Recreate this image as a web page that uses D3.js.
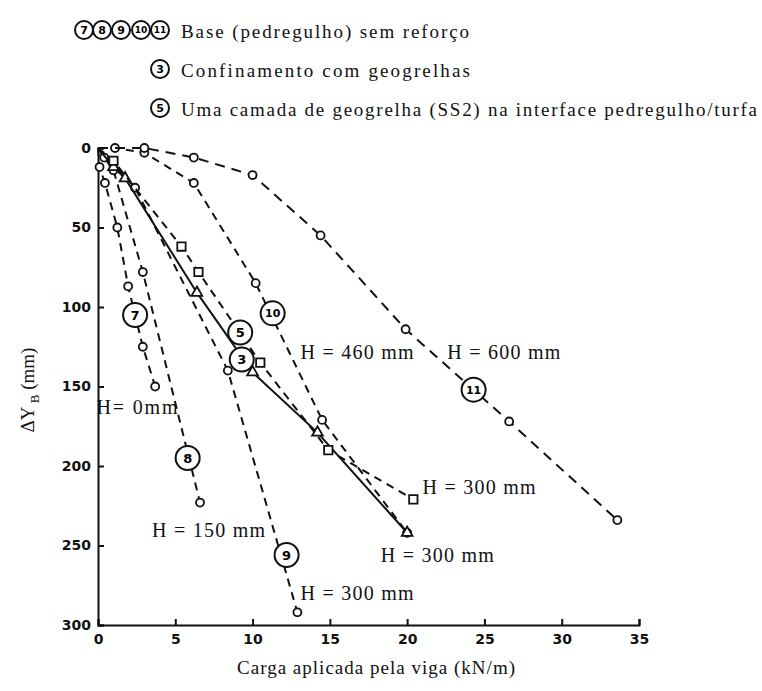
<!DOCTYPE html>
<html>
<head>
<meta charset="utf-8">
<script src="https://cdn.jsdelivr.net/npm/d3@7"></script>
<style>
  body { margin: 0; background: #fff; }
  svg { display: block; }
  .serif { font-family: "Liberation Serif", "DejaVu Serif", serif; fill: #111; }
  .tick text { font-family: "DejaVu Sans", sans-serif; font-weight: bold; font-size: 14px; fill: #111; }
</style>
</head>
<body>
<svg id="chart" width="762" height="691"></svg>
<script>
// load (kN/m) vs settlement (mm), curves
const curve7  = [[0, 0], [0.1, 12], [0.45, 22], [1.25, 50], [1.95, 87], [2.9, 125], [3.7, 150]];
const curve8  = [[0, 0], [0.4, 6], [1.0, 14], [2.9, 78], [6.6, 223]];
const curve9  = [[0, 0], [1.0, 10], [2.4, 25], [8.4, 140], [12.9, 292]];
const curve10 = [[0, 0], [1.1, 0], [3.0, 3], [6.2, 22], [10.2, 85], [14.5, 171], [20.0, 242]];
const curve11 = [[0, 0], [3.0, 0], [6.2, 6], [10.0, 17], [14.4, 55], [19.9, 114], [26.6, 172], [33.6, 234]];
const curve3  = [[0, 0], [1.0, 12], [1.75, 19], [6.4, 91], [10.0, 141], [14.2, 179], [20.0, 242]];
const curve5  = [[0, 0], [1.0, 8], [5.4, 62], [6.5, 78], [10.5, 135], [14.9, 190], [20.4, 221]];

const xTicks = [0, 5, 10, 15, 20, 25, 30, 35];
const yTicks = [0, 50, 100, 150, 200, 250, 300];

// circled curve numbers, [x, y, label] in data units
const curveTags = [[2.4, 105, "7"], [5.8, 195, "8"], [12.2, 256, "9"], [11.3, 104, "10"],
                   [24.3, 152, "11"], [9.2, 116, "5"], [9.3, 133, "3"]];
// H annotations, [x, y, text] in data units (x = left of text)
const hNotes = [[-0.1, 163, "H= 0mm"], [3.5, 240, "H = 150 mm"], [13.1, 280, "H = 300 mm"],
                [13.1, 128, "H = 460 mm"], [22.6, 128, "H = 600 mm"],
                [21.0, 213, "H = 300 mm"], [18.3, 256, "H = 300 mm"]];

const legendTags = ["7", "8", "9", "10", "11"];
const legendText = ["Base (pedregulho) sem reforço", "Confinamento com geogrelhas",
                    "Uma camada de geogrelha (SS2) na interface pedregulho/turfa"];

const svg = d3.select("#chart");
const x = d3.scaleLinear().domain([0, 35]).range([98, 639]);
const y = d3.scaleLinear().domain([0, 300]).range([148, 625]);

// axes
svg.append("g")
  .attr("transform", `translate(0,${y(300)})`)
  .call(d3.axisBottom(x).tickValues(xTicks).tickSize(-6).tickPadding(9))
  .call(g => g.select(".domain").attr("stroke-width", 2).attr("stroke", "#111"))
  .call(g => g.selectAll(".tick line").attr("stroke-width", 2).attr("stroke", "#111"));

svg.append("g")
  .attr("transform", `translate(${x(0)},0)`)
  .call(d3.axisLeft(y).tickValues(yTicks).tickSize(-6).tickPadding(7))
  .call(g => g.select(".domain").attr("stroke-width", 2).attr("stroke", "#111"))
  .call(g => g.selectAll(".tick line").attr("stroke-width", 2).attr("stroke", "#111"));

const line = d3.line().x(d => x(d[0])).y(d => y(d[1]));

const series = [
  { data: curve7, dash: "8,6", mark: "circle" },
  { data: curve8, dash: "8,6", mark: "circle" },
  { data: curve9, dash: "8,6", mark: "circle" },
  { data: curve10, dash: "8,6", mark: "circle" },
  { data: curve11, dash: "10,7", mark: "circle" },
  { data: curve3, dash: null, mark: "triangle" },
  { data: curve5, dash: "8,6", mark: "square" }
];

series.forEach(s => {
  svg.append("path")
    .attr("d", line(s.data))
    .attr("fill", "none")
    .attr("stroke", "#111")
    .attr("stroke-width", 2)
    .attr("stroke-dasharray", s.dash);

  const sym = s.mark === "circle" ? d3.symbolCircle : s.mark === "square" ? d3.symbolSquare : d3.symbolTriangle;
  const size = s.mark === "square" ? 70 : 50;
  svg.append("g").selectAll("path")
    .data(s.data.slice(1))
    .join("path")
    .attr("d", d3.symbol(sym, size))
    .attr("transform", d => `translate(${x(d[0])},${y(d[1])})`)
    .attr("fill", "#fff")
    .attr("stroke", "#111")
    .attr("stroke-width", 1.8);
});

// circled curve numbers
const tags = svg.append("g").selectAll("g").data(curveTags).join("g")
  .attr("transform", d => `translate(${x(d[0])},${y(d[1])})`);
tags.append("circle").attr("r", 12).attr("fill", "#fff").attr("stroke", "#111").attr("stroke-width", 2);
tags.append("text")
  .attr("text-anchor", "middle").attr("dy", "0.35em")
  .style("font-family", "DejaVu Sans, sans-serif").style("font-weight", "bold")
  .style("font-size", d => d[2].length > 1 ? "11px" : "13px")
  .text(d => d[2]);

// H annotations
svg.append("g").selectAll("text").data(hNotes).join("text")
  .attr("class", "serif")
  .attr("x", d => x(d[0])).attr("y", d => y(d[1]))
  .attr("dy", "0.35em")
  .style("font-size", "20px")
  .attr("textLength", d => d[2] === "H= 0mm" ? 81 : 113)
  .attr("lengthAdjust", "spacing")
  .text(d => d[2]);

// legend
const leg = svg.append("g");
legendTags.forEach((t, i) => {
  const cx = [84, 102, 121, 141, 160][i];
  leg.append("circle").attr("cx", cx).attr("cy", 30).attr("r", 9)
    .attr("fill", "#fff").attr("stroke", "#111").attr("stroke-width", 2);
  leg.append("text").attr("x", cx).attr("y", 30).attr("dy", "0.35em")
    .attr("text-anchor", "middle")
    .style("font-family", "DejaVu Sans, sans-serif").style("font-weight", "bold")
    .style("font-size", t.length > 1 ? "9px" : "11px")
    .text(t);
});
["3", "5"].forEach((t, i) => {
  const cy = [69, 108][i];
  leg.append("circle").attr("cx", 160).attr("cy", cy).attr("r", 9)
    .attr("fill", "#fff").attr("stroke", "#111").attr("stroke-width", 2);
  leg.append("text").attr("x", 160).attr("y", cy).attr("dy", "0.35em")
    .attr("text-anchor", "middle")
    .style("font-family", "DejaVu Sans, sans-serif").style("font-weight", "bold")
    .style("font-size", "11px")
    .text(t);
});
leg.selectAll("text.item").data(legendText).join("text")
  .attr("class", "serif item")
  .attr("x", 181).attr("y", (d, i) => [31, 70, 109][i])
  .attr("dy", "0.35em")
  .style("font-size", "19px")
  .attr("textLength", (d, i) => [288, 289, 576][i])
  .attr("lengthAdjust", "spacing")
  .text(d => d);

// axis titles
svg.append("text")
  .attr("class", "serif")
  .attr("x", 237).attr("y", 667).attr("dy", "0.35em")
  .style("font-size", "19px")
  .attr("textLength", 278).attr("lengthAdjust", "spacing")
  .text("Carga aplicada pela viga (kN/m)");

const yl = svg.append("text")
  .attr("class", "serif")
  .attr("transform", "translate(27,390) rotate(-90)")
  .attr("text-anchor", "middle")
  .attr("dy", "0.35em")
  .style("font-size", "19px");
yl.append("tspan").text("ΔY");
yl.append("tspan").attr("dy", "5").style("font-size", "13px").text(" B");
yl.append("tspan").attr("dy", "-5").text(" (mm)");
</script>
</body>
</html>
